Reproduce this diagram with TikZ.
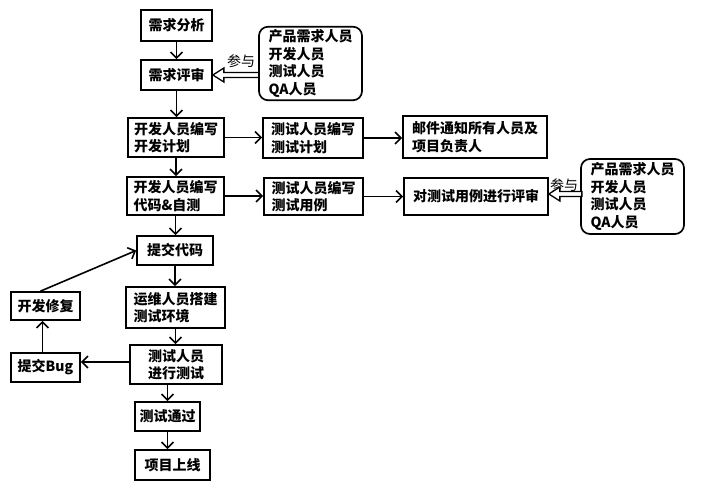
\documentclass[tikz,border=0pt]{standalone}
\usepackage{fontspec}
\setmainfont{Noto Sans CJK SC}
\usetikzlibrary{arrows.meta,positioning}

\begin{document}
\begin{tikzpicture}[
    x=1pt, y=-1pt,
    every node/.style={
        font=\fontsize{14}{17.5}\selectfont\bfseries
    },
    box/.style={
        draw,
        line width=1.7pt,
        align=left,
        inner sep=2pt
    },
    crowd/.style={
        draw,
        line width=1.7pt,
        rounded corners=9pt,
        align=left,
        inner sep=3pt
    },
    flow/.style={
        draw,
        line width=1.6pt,
        -{Straight Barb[length=6pt,width=12pt]}
    },
    hollow/.style={
        draw,
        line width=1.3pt,
        fill=white
    }
]
\useasboundingbox (0,0) rectangle (720,481);

% main column
\node[box, minimum width=71, minimum height=31] (ana) at (176.5,25.5) {需求分析};
\node[box, minimum width=71, minimum height=30] (rev) at (176.5,75) {需求评审};
\node[box, minimum width=96, minimum height=39] (devplan) at (176,137.5) {开发人员编写\\开发计划};
\node[box, minimum width=97, minimum height=38] (devcode) at (175.5,196) {开发人员编写\\代码\&自测};
\node[box, minimum width=76, minimum height=29] (commit) at (175,250.5) {提交代码};
\node[box, minimum width=99, minimum height=41] (ops) at (175.5,307.5) {运维人员搭建\\测试环境};
\node[box, minimum width=92, minimum height=39] (runtest) at (176,364.5) {测试人员\\进行测试};
\node[box, minimum width=65, minimum height=29] (pass) at (167.5,416.5) {测试通过};
\node[box, minimum width=75, minimum height=30] (live) at (172.5,465) {项目上线};

% test side
\node[box, minimum width=100, minimum height=40] (testplan) at (313,138) {测试人员编写\\测试计划};
\node[box, minimum width=144, minimum height=42] (mail) at (475,137) {邮件通知所有人员及\\项目负责人};
\node[box, minimum width=99, minimum height=37] (testcase) at (313.5,196.5) {测试人员编写\\测试用例};
\node[box, minimum width=144, minimum height=37] (caserev) at (476,196.5) {对测试用例进行评审};

% bug loop
\node[box, minimum width=69, minimum height=28] (fix) at (45.5,306) {开发修复};
\node[box, minimum width=69, minimum height=29] (bug) at (45.5,367.5) {提交Bug};

% participants
\node[crowd, minimum width=103, minimum height=73] (grpA) at (310.5,63.5) {产品需求人员\\开发人员\\测试人员\\QA人员};
\node[crowd, minimum width=103, minimum height=75] (grpB) at (632.5,196.5) {产品需求人员\\开发人员\\测试人员\\QA人员};
\node[font=\fontsize{14}{16}\selectfont] (joinA) at (241,61) {参与};
\node[font=\fontsize{14}{16}\selectfont] (joinB) at (564,185) {参与};

% connectors
\draw[flow] (ana.south) -- (ana.south |- rev.north);
\draw[flow] (rev.south) -- (rev.south |- devplan.north);
\draw[flow] (devplan.south) -- (devplan.south |- devcode.north);
\draw[flow] (devcode.south) -- (devcode.south |- commit.north);
\draw[flow] (commit.south) -- (commit.south |- ops.north);
\draw[flow] (ops.south) -- (ops.south |- runtest.north);
\draw[flow] (pass.north |- runtest.south) -- (pass.north);
\draw[flow] (pass.south) -- (pass.south |- live.north);
\draw[flow] (devplan.east) -- (devplan.east -| testplan.west);
\draw[flow] (testplan.east) -- (testplan.east -| mail.west);
\draw[flow] (devcode.east) -- (devcode.east -| testcase.west);
\draw[flow] (testcase.east) -- (testcase.east -| caserev.west);
\draw[flow] ([yshift=2.5pt]runtest.west) -- ([yshift=2.5pt]runtest.west -| bug.east);
\draw[flow] ([xshift=-3pt]bug.north) -- ([xshift=-3pt]fix.south);
\draw[flow] ([xshift=-5pt]fix.north) -- (commit.west);

% hollow arrows
\draw[hollow] (rev.east) -- ++(11,-7) -- ++(0,4.5) -- ++(35,0) -- ++(0,5)
    -- ++(-35,0) -- ++(0,4.5) -- cycle;
\draw[hollow] ([yshift=2.5pt]caserev.east) -- ++(11,-7) -- ++(0,4.5) -- ++(22,0) -- ++(0,5)
    -- ++(-22,0) -- ++(0,4.5) -- cycle;

\end{tikzpicture}
\end{document}
